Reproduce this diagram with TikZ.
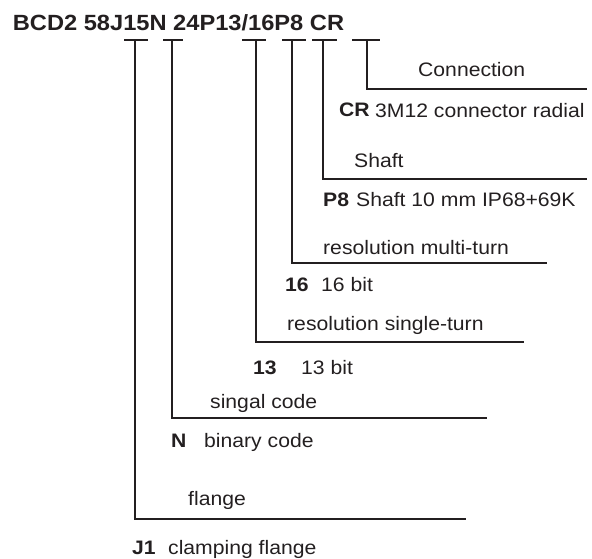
\documentclass[tikz,border=0pt]{standalone}
\usepackage{fontspec}
\setmainfont{Liberation Sans}[FakeStretch=1.085]
\newfontfamily\titlefont{Liberation Sans}[FakeStretch=1.075]
\usepackage{tikz}
\definecolor{ink}{HTML}{231F20}

\begin{document}
\begin{tikzpicture}[%
    x=1pt, y=-1pt,
    txt/.style={%
        anchor=base west,
        inner sep=0pt,
        text=ink,
        font=\fontsize{19.5}{22}\selectfont
    },
    code/.style={%
        anchor=base west,
        inner sep=0pt,
        text=ink,
        font=\fontsize{19.5}{22}\selectfont\bfseries
    },
    title/.style={%
        anchor=base west,
        inner sep=0pt,
        text=ink,
        font=\titlefont\fontsize{22}{25}\selectfont\bfseries
    },
    lead/.style={%
        draw=ink,
        line width=1.6pt
    }
]
\useasboundingbox (0,0) rectangle (592,558);

% Type code
    \node[title] (typecode) at (12.7,30.7) {BCD2 58J15N 24P13/16P8 CR};

% Tick points under the code
    \coordinate (tick1) at (135,40);
    \coordinate (tick2) at (172,40);
    \coordinate (tick3) at (256,40);
    \coordinate (tick4) at (292,40);
    \coordinate (tick5) at (323,40);
    \coordinate (tick6) at (367,40);

% Corners and ends of the leaders
    \coordinate (corner1) at (135,519);
    \coordinate (end1) at (466,519);
    \coordinate (corner2) at (172,418);
    \coordinate (end2) at (487,418);
    \coordinate (corner3) at (256,342);
    \coordinate (end3) at (524,342);
    \coordinate (corner4) at (292,263);
    \coordinate (end4) at (547,263);
    \coordinate (corner5) at (323,179);
    \coordinate (end5) at (587,179);
    \coordinate (corner6) at (367,89);
    \coordinate (end6) at (587,89);

% Connection
    \node[txt] (connection) at (418,76) {Connection};
    \node[code] (codeCR) at (339,116.5) {CR};
    \node[txt] (descCR) at (375,117) {3M12 connector radial};

% Shaft
    \node[txt] (shaft) at (354,167.5) {Shaft};
    \node[code] (codeP8) at (323,206.5) {P8};
    \node[txt] (descP8) at (356,206.5) {Shaft 10 mm IP68+69K};

% Resolution multi-turn
    \node[txt] (multiturn) at (323,254) {resolution multi-turn};
    \node[code] (code16) at (285,291) {16};
    \node[txt] (desc16) at (321,291) {16 bit};

% Resolution single-turn
    \node[txt] (singleturn) at (287,330) {resolution single-turn};
    \node[code] (code13) at (253,374.5) {13};
    \node[txt] (desc13) at (301,374.5) {13 bit};

% Code
    \node[txt] (signalcode) at (210,408) {singal code};
    \node[code] (codeN) at (171,447) {N};
    \node[txt] (descN) at (204,447) {binary code};

% Flange
    \node[txt] (flange) at (188,505) {flange};
    \node[code] (codeJ1) at (132,554) {J1};
    \node[txt] (descJ1) at (168,554) {clamping flange};

% Ticks
\draw[lead] ([xshift=-11]tick1) -- ([xshift=13]tick1);
\draw[lead] ([xshift=-9]tick2) -- ([xshift=11]tick2);
\draw[lead] ([xshift=-14]tick3) -- ([xshift=10]tick3);
\draw[lead] ([xshift=-10]tick4) -- ([xshift=14]tick4);
\draw[lead] ([xshift=-11]tick5) -- ([xshift=14]tick5);
\draw[lead] ([xshift=-15]tick6) -- ([xshift=13]tick6);

% Leaders
\draw[lead] (tick1) -- (corner1) -- (end1);
\draw[lead] (tick2) -- (corner2) -- (end2);
\draw[lead] (tick3) -- (corner3) -- (end3);
\draw[lead] (tick4) -- (corner4) -- (end4);
\draw[lead] (tick5) -- (corner5) -- (end5);
\draw[lead] (tick6) -- (corner6) -- (end6);

\end{tikzpicture}
\end{document}
